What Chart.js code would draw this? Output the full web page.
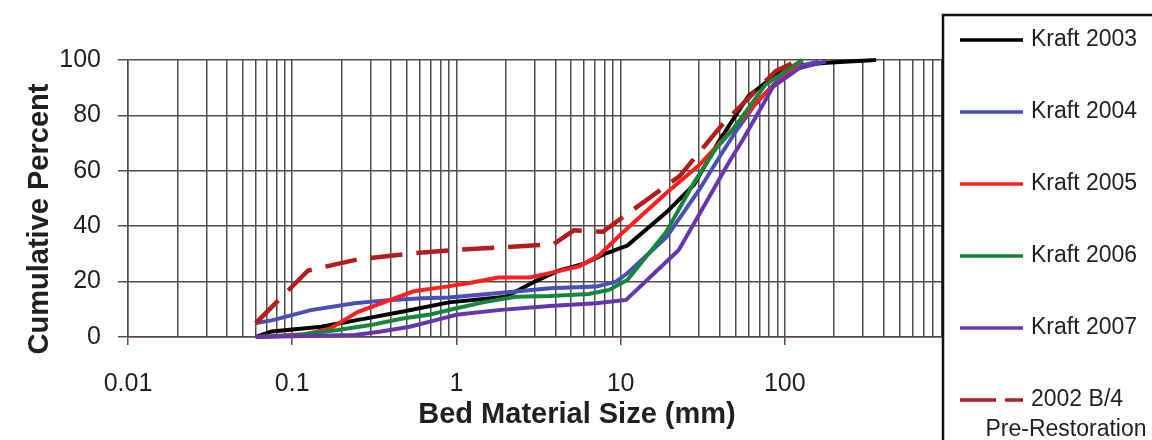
<!DOCTYPE html>
<html><head><meta charset="utf-8">
<script src="https://cdn.jsdelivr.net/npm/chart.js@4.4.1/dist/chart.umd.min.js"></script>
<style>html,body{margin:0;padding:0;background:#fff;}canvas{display:block;}</style>
</head><body>
<canvas id="c" width="1152" height="440"></canvas>
<script>
// ---- data ----
const seriesNames = ['Kraft 2003', 'Kraft 2004', 'Kraft 2005', 'Kraft 2006', 'Kraft 2007', '2002 B/4'];
const size2003 = [0.06, 0.075, 0.15, 0.3, 0.5, 0.9, 2, 3, 4.2, 6, 8, 11, 19, 28, 40, 60, 90, 120, 180, 360];
const pct2003  = [0, 2, 3.7, 7, 9.5, 12.5, 14.5, 20, 24, 26.5, 30, 33, 45, 55, 71, 87, 95, 98, 99, 100];
const size2004 = [0.06, 0.075, 0.13, 0.24, 0.4, 0.62, 0.9, 2.3, 3.7, 7.1, 9.4, 11, 19, 30, 40, 50, 66, 85, 100, 120, 160];
const pct2004  = [5, 6, 9.7, 12.2, 13.4, 14, 14.3, 16.4, 17.6, 18.2, 20, 23, 36, 53, 65, 74, 84, 91, 95, 97.5, 99.5];
const size2005 = [0.06, 0.12, 0.17, 0.25, 0.4, 0.55, 0.83, 1.2, 1.8, 2.8, 4, 5.6, 7.4, 10, 19, 30, 48, 76, 105, 128];
const pct2005  = [0, 1, 3, 9, 13.5, 16.5, 18, 19.5, 21.5, 21.5, 23.5, 25.5, 29.5, 37, 52, 62, 75, 88, 95, 100];
const size2006 = [0.06, 0.1, 0.19, 0.3, 0.47, 0.68, 1, 1.45, 2.3, 3.7, 6.4, 8.5, 11, 19, 27.5, 38, 48.5, 76, 110, 128];
const pct2006  = [0, 0.5, 2.5, 4.3, 6.7, 8, 10.4, 12.5, 14.5, 14.8, 15.5, 17, 20.6, 38, 55, 68, 75, 91, 97.5, 100];
const size2007 = [0.06, 0.24, 0.34, 0.52, 0.75, 1, 1.8, 3.7, 7.1, 10.8, 22.6, 34.7, 45.6, 55.3, 85, 122, 178];
const pct2007  = [0, 0.7, 1.9, 3.7, 6.1, 8, 9.7, 11.2, 12.2, 13.4, 31.4, 50.6, 63, 71, 90.4, 97, 99.5];
const size2002 = [0.06, 0.125, 0.25, 0.5, 1, 2, 3.9, 5.2, 7.8, 11.3, 22.8, 30, 42, 88, 122];
const pct2002  = [5, 24, 28, 30, 31.5, 32.4, 33.5, 38.5, 38, 45, 58, 66.5, 77, 96, 100];
const xTickLabels = ['0.01', '0.1', '1', '10', '100'];
const xMax = 1000;
const yTickLabels = ['0', '20', '40', '60', '80', '100'];
const xTitle = 'Bed Material Size (mm)';
const yTitle = 'Cumulative Percent';
const legendNote = 'Pre-Restoration';

// ---- styles ----
const colors = ['#000000', '#4b4db8', '#ff1f1f', '#14873c', '#6636ae', '#b01e1e'];
const GRID = '#574b49';
const TXT = '#231f20';
const FONT = "'Liberation Sans', Arial, sans-serif";

const decades = xTickLabels.map(Number);
const xTickValues = [];
decades.forEach(d => { for (let k = 1; k <= 9; k++) xTickValues.push(k * d); });
xTickValues.push(xMax);
const isDecade = v => decades.some(d => Math.abs(v - d) / d < 1e-6);
const labelFor = v => { const i = decades.findIndex(d => Math.abs(v - d) / d < 1e-6); return i >= 0 ? xTickLabels[i] : ''; };

const sizes = [size2003, size2004, size2005, size2006, size2007, size2002];
const pcts = [pct2003, pct2004, pct2005, pct2006, pct2007, pct2002];
const datasets = seriesNames.map((name, i) => ({
  label: name,
  data: sizes[i].map((s, j) => ({ x: s, y: pcts[i][j] })),
  borderColor: colors[i],
  backgroundColor: colors[i],
  borderWidth: i === 5 ? 4.5 : 4,
  borderDash: i === 5 ? [32, 14] : [],
  pointRadius: 0,
  tension: 0,
  fill: false,
  clip: false,
  order: seriesNames.length - 1 - i
}));

const overlay = {
  id: 'overlay',
  afterDraw(chart) {
    const ctx = chart.ctx;
    ctx.save();
    // axis titles
    ctx.fillStyle = TXT;
    ctx.font = 'bold 29px ' + FONT;
    ctx.textAlign = 'center';
    ctx.textBaseline = 'middle';
    ctx.fillText(xTitle, 577, 415);
    ctx.save();
    ctx.translate(40, 219);
    ctx.rotate(-Math.PI / 2);
    ctx.fillText(yTitle, 0, 0);
    ctx.restore();
    // legend box
    const bx = 943, by = 15;
    ctx.fillStyle = '#ffffff';
    ctx.fillRect(bx, by, 1152 - bx + 10, 440 - by + 10);
    ctx.strokeStyle = '#111';
    ctx.lineWidth = 2.5;
    ctx.strokeRect(bx, by, 1152 - bx + 10, 440 - by + 10);
    chart.data.datasets.forEach((ds, i) => {
      const y = 40 + i * 72;
      ctx.beginPath();
      ctx.setLineDash(i === 5 ? [36, 9] : []);
      ctx.strokeStyle = ds.borderColor;
      ctx.lineWidth = 3.5;
      ctx.moveTo(960, y);
      ctx.lineTo(1023, y);
      ctx.stroke();
      ctx.setLineDash([]);
      ctx.fillStyle = TXT;
      ctx.font = '23px ' + FONT;
      ctx.textAlign = 'left';
      ctx.textBaseline = 'middle';
      ctx.fillText(ds.label, 1031, y);
    });
    ctx.textAlign = 'center';
    ctx.fillText(legendNote, 1066, 430);
    ctx.restore();
  }
};

new Chart(document.getElementById('c'), {
  type: 'line',
  data: { datasets },
  options: {
    responsive: false,
    animation: false,
    layout: { padding: { left: 0, right: 203, top: 60, bottom: 0 } },
    plugins: { legend: { display: false }, tooltip: { enabled: false }, title: { display: false } },
    scales: {
      x: {
        type: 'logarithmic',
        min: decades[0],
        max: xMax,
        afterBuildTicks: s => { s.ticks = xTickValues.map(v => ({ value: v })); },
        afterFit: s => { s.height = 103; },
        ticks: {
          autoSkip: false, maxRotation: 0, minRotation: 0, padding: 24,
          color: TXT, font: { family: FONT, size: 25 },
          callback: v => labelFor(v)
        },
        grid: {
          color: GRID, lineWidth: 1.5, tickLength: 8,
          tickColor: c => (c.tick && isDecade(c.tick.value)) ? GRID : 'rgba(0,0,0,0)'
        },
        border: { display: true, color: GRID, width: 1.5 }
      },
      y: {
        type: 'linear',
        min: 0, max: 100,
        afterBuildTicks: s => { s.ticks = yTickLabels.map(t => ({ value: Number(t) })); },
        afterFit: s => { s.width = 128; },
        ticks: {
          padding: 17, color: TXT, font: { family: FONT, size: 25 },
          callback: v => String(v)
        },
        grid: { color: GRID, lineWidth: 1.5, tickLength: 10, tickColor: GRID },
        border: { display: true, color: GRID, width: 1.5 }
      }
    }
  },
  plugins: [overlay]
});
</script>
</body></html>
